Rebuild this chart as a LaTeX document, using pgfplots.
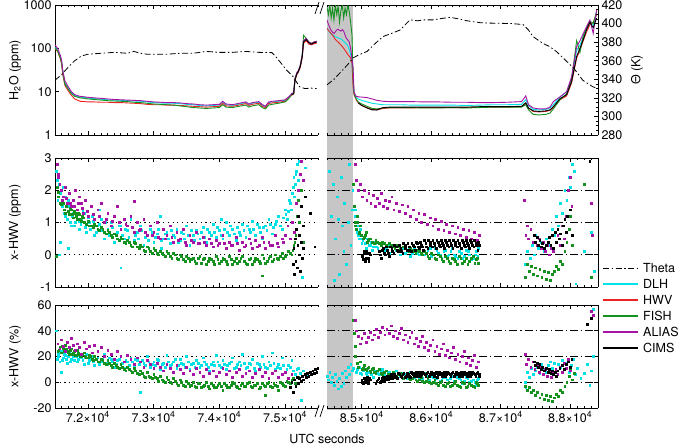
\documentclass[border=0pt]{standalone}
\usepackage{fontspec}
\setmainfont{TeX Gyre Heros}
\usepackage{pgfplots}
\pgfplotsset{compat=1.18}
\usepackage{pgfplotstable}
\pgfdeclarelayer{background}
\pgfsetlayers{background,main}

\definecolor{cDLH}{RGB}{0,225,230}
\definecolor{cHWV}{RGB}{235,35,35}
\definecolor{cFISH}{RGB}{20,145,30}
\definecolor{cALIAS}{RGB}{165,20,165}
\tikzset{thetaline/.style={black, line width=0.8pt, dash pattern=on 6pt off 2.5pt on 1.5pt off 2.5pt}}

\pgfplotsset{
  every axis/.append style={
    scale only axis,
    font=\fontsize{12.5}{14}\selectfont,
    /pgf/number format/assume math mode=true,
    scaled x ticks=false,
    tick align=inside,
    major tick length=4pt, minor tick length=2.2pt,
    tick style={black, line width=0.6pt},
    axis line style={-, line width=0.8pt},
    every outer x axis line/.append style={-},
    every outer y axis line/.append style={-},
  },
  leftseg/.style={anchor=north west, width=263pt, xmin=71500, xmax=75500,
    axis x line*=box, axis y line*=left,
    xtick={72000,73000,74000,75000}, minor xtick={71500,71600,...,75500},
    xticklabels={},
    ylabel style={at={(axis description cs:-0.152,0.5)}, anchor=center}},
  rightseg/.style={anchor=north west, width=271pt, xmin=84500, xmax=88400,
    axis x line*=box, axis y line*=right,
    xtick={85000,86000,87000,88000}, minor xtick={84500,84600,...,88400},
    xticklabels={}, yticklabels={}},
  scat/.style={only marks, mark=square*, mark size=0.9pt, color=#1},
  ln/.style={color=#1, line width=0.9pt, unbounded coords=jump},
  theta/.style={thetaline},
}

\pgfplotstableread{
x dlh hwv fish alias cims
71500 105 95 100 120 nan
71540 90 85 88 100 nan
71580 62 58 60 70 nan
71600 48 44 46 55 nan
71620 27 24 26 30 nan
71650 16 14 15 18 nan
71700 12 10.5 11.5 13 nan
71750 9.4 8.2 9.0 10 nan
71800 8.2 6.8 7.8 8.5 nan
71880 7.5 6.0 7.2 7.8 nan
71950 7.3 5.9 7.0 7.6 nan
72000 7.1 5.8 6.8 7.4 nan
72100 6.9 5.8 6.6 7.2 nan
72200 6.7 5.7 6.4 7.0 nan
72300 6.5 5.7 6.2 6.8 nan
72400 6.4 5.6 6.1 6.6 nan
72500 6.3 5.6 6.0 6.5 nan
72600 6.2 5.5 5.9 6.4 nan
72700 6.1 5.4 5.7 6.3 nan
72800 6.0 5.3 5.6 6.2 nan
72900 5.8 5.1 5.4 6.0 nan
73000 5.6 5.0 5.2 5.8 nan
73100 5.5 5.0 5.1 5.7 nan
73200 5.4 4.9 5.0 5.6 nan
73300 5.4 4.9 4.9 5.6 nan
73400 5.3 4.8 4.7 5.5 nan
73500 5.1 4.7 4.5 5.3 nan
73600 5.0 4.6 4.3 5.2 nan
73700 4.8 4.5 4.2 5.0 nan
73800 4.7 4.4 4.1 4.9 nan
73900 4.8 4.5 4.2 5.0 nan
74000 4.9 4.6 4.3 5.1 nan
74050 5.8 5.4 5.0 6.0 nan
74100 5.0 4.7 4.4 5.2 nan
74200 4.8 4.6 4.3 5.0 nan
74300 5.2 4.9 4.6 5.4 nan
74400 5.6 5.3 4.9 5.8 nan
74450 5.0 4.8 4.4 5.2 nan
74500 5.4 5.1 4.7 5.6 nan
74600 5.7 5.4 5.0 5.9 nan
74650 4.9 4.6 4.3 5.1 nan
74700 4.5 4.3 4.0 4.6 nan
74750 5.6 5.3 4.9 5.8 nan
74800 5.8 5.5 5.1 6.0 nan
74900 6.0 5.7 5.4 6.2 nan
75000 6.3 6.0 5.8 6.5 nan
75050 7.3 7.0 6.8 7.5 nan
75100 8.8 8.3 8.5 9.0 8.6
75130 9.3 8.8 9.0 9.5 9.0
75150 19 18 20 20 19
75180 27 25 27 28 26
75200 29 28 30 30 29
75230 38 36 40 40 38
75260 65 60 70 70 65
75280 140 130 200 150 140
75320 160 150 170 170 160
75360 135 125 140 140 135
75400 125 120 130 130 125
75440 135 128 140 140 135
75480 140 132 145 145 140
}\tlTab

\pgfplotstableread{
x dlh hwv fish alias cims
84500 300 290 900 450 nan
84520 260 260 600 360 nan
84540 230 240 1000 300 nan
84560 215 220 500 260 nan
84580 205 200 850 235 nan
84600 195 180 450 220 nan
84620 185 160 1000 240 nan
84640 180 150 600 265 nan
84660 175 140 950 275 nan
84680 170 130 400 260 nan
84700 165 120 750 250 nan
84720 155 110 1000 270 nan
84740 145 100 500 250 nan
84760 135 90 850 200 nan
84780 125 80 600 170 nan
84800 115 72 1000 155 nan
84820 95 66 700 140 nan
84840 72 60 400 100 nan
84860 42 45 200 55 nan
84875 16 13 20 37 nan
84890 9.5 8.4 8.8 9.5 nan
84920 7.4 6.5 6.8 7.8 nan
84950 6.8 5.5 5.8 7.6 5.5
85000 6.3 4.8 5.2 7.5 4.8
85076 5.8 4.3 4.6 7.3 4.2
85150 5.4 3.9 4.1 6.8 3.8
85220 5.2 3.8 4.0 6.3 3.8
85306 5.0 4.1 4.2 6.0 4.3
85400 5.0 4.2 4.3 5.9 4.4
85550 5.0 4.2 4.3 5.9 4.4
85700 4.9 4.2 4.3 5.9 4.4
85900 4.9 4.3 4.2 5.8 4.4
86100 4.9 4.3 4.2 5.8 4.4
86300 4.9 4.3 4.3 5.7 4.4
86500 4.8 4.3 4.2 5.7 4.4
86700 4.9 4.4 4.3 5.6 4.5
86900 5.0 4.4 4.4 5.6 4.5
87100 5.0 4.4 4.4 5.7 4.5
87300 5.1 4.5 4.4 5.9 4.6
87360 6.5 5.5 5.0 8.0 5.5
87400 4.8 4.2 3.8 5.0 4.2
87468 3.9 3.5 3.0 4.2 3.6
87550 3.8 3.4 2.9 4.0 3.5
87650 3.9 3.5 3.0 4.0 3.6
87709 4.2 3.7 3.2 4.4 3.8
87757 5.0 4.3 4.0 5.9 4.5
87853 7.5 6.5 6.5 7.6 6.9
87949 10 8 9 10 8.5
88020 20 16 20 22 17
88093 90 60 150 109 65
88140 120 90 80 150 100
88188 180 150 200 220 160
88240 300 250 300 330 280
88284 420 350 420 450 400
88331 350 400 380 220 300
88380 600 600 700 770 500
}\trTab

\begin{document}
\begin{tikzpicture}
\useasboundingbox (0,0) rectangle (679pt,-447pt);

% ---------------- top panel: H2O and Theta
\begin{axis}[leftseg, at={(55pt,-5pt)}, height=130pt,
  ymode=log, ymin=1, ymax=1000, ytick={1,10,100,1000},
  yticklabels={1,10,100,1000}, minor y tick style={draw=none},
  ylabel={H\textsubscript{2}O (ppm)}]
\addplot[ln=cDLH] table[x=x,y=dlh] {\tlTab};
\addplot[ln=cHWV] table[x=x,y=hwv] {\tlTab};
\addplot[ln=cFISH] table[x=x,y=fish] {\tlTab};
\addplot[ln=cALIAS] table[x=x,y=alias] {\tlTab};
\addplot[ln=black] table[x=x,y=cims] {\tlTab};
\end{axis}
\begin{axis}[anchor=north west, at={(55pt,-5pt)}, width=263pt, height=130pt,
  xmin=71500, xmax=75500, ymin=280, ymax=420, hide axis]
\addplot[theta] coordinates {
(71500,339) (71600,345) (71700,353) (71800,360) (71900,365) (72000,367)
(72200,368) (72400,369) (72600,368) (72700,370) (72800,368) (72900,367)
(73000,367) (73200,367) (73400,368) (73600,368) (73700,369) (73800,370)
(74000,369) (74200,369) (74400,370) (74600,369) (74800,368.7) (74850,365)
(74920,359) (75020,350) (75120,343) (75220,332) (75300,330) (75400,330.5) (75480,330)};
\end{axis}

\begin{axis}[rightseg, at={(327pt,-5pt)}, height=130pt, axis y line=none,
  ymode=log, ymin=1, ymax=1000]
\coordinate (gA) at (axis cs:84500,1000);
\addplot[ln=cDLH] table[x=x,y=dlh] {\trTab};
\addplot[ln=cHWV] table[x=x,y=hwv] {\trTab};
\addplot[ln=cFISH] table[x=x,y=fish] {\trTab};
\addplot[ln=cALIAS] table[x=x,y=alias] {\trTab};
\addplot[ln=black] table[x=x,y=cims] {\trTab};
\end{axis}
\begin{axis}[rightseg, at={(327pt,-5pt)}, height=130pt, axis x line=none,
  ymin=280, ymax=420, ytick={280,300,...,420}, minor y tick num=3,
  yticklabels={280,300,320,340,360,380,400,420},
  ylabel={Θ (K)}, ylabel style={at={(axis description cs:1.144,0.5)}, anchor=center}]
\addplot[theta] coordinates {
(84500,334) (84600,340) (84700,348) (84800,356) (84874,363) (84950,366)
(85076,370) (85200,379) (85306,386) (85450,390) (85550,393) (85694,404)
(85800,403) (85900,404) (86025,404) (86150,405.5) (86270,406.7) (86400,405)
(86514,403) (86700,401) (86850,400.5) (86990,400.3) (87150,400) (87320,399)
(87400,393) (87464,386) (87600,379) (87709,375) (87800,370) (87953,359)
(88050,352) (88180,339) (88324,332) (88400,330)};
\end{axis}

% ---------------- middle panel: x-HWV (ppm)
\begin{axis}[leftseg, at={(55pt,-158pt)}, height=129pt,
  ymin=-1, ymax=3, ytick={-1,0,1,2,3}, ylabel={x-HWV (ppm)},
  ymajorgrids, grid style={black, line width=0.6pt, dash pattern=on 1.2pt off 3.5pt}]
\addplot[scat=cDLH] coordinates {
(71520,2.6) (71540,1.7) (71560,2.2) (71580,0.4) (71600,1.6) (71620,2.1) (71640,1.3)
(71660,1.8) (71690,1.1) (71720,1.5) (71750,0.9) (71780,1.3) (71810,1.0) (71840,1.4)
(71870,0.8) (71900,1.1) (71940,1.3) (71980,0.7) (72020,1.0) (72060,1.2) (72100,0.6)
(72150,0.9) (72200,1.1) (72250,0.5) (72300,0.8) (72350,1.0) (72400,0.4) (72450,0.7)
(72500,0.9) (72550,0.5) (72600,0.75) (72650,1.1) (72700,0.45) (72750,0.7) (72800,0.9)
(72850,0.3) (72900,0.6) (72950,0.8) (73000,0.4) (73050,0.65) (73100,1.2) (73150,0.5)
(73200,0.7) (73250,0.35) (73300,0.6) (73350,0.8) (73400,0.45) (73450,0.65) (73500,0.9)
(73550,0.3) (73600,0.6) (73650,0.75) (73700,0.5) (73750,0.85) (73800,0.4) (73850,0.7)
(73900,0.95) (73950,0.55) (74000,0.75) (74050,0.5) (74100,1.0) (74150,0.6) (74200,0.8)
(74250,0.45) (74300,0.7) (74350,0.95) (74400,0.55) (74450,0.8) (74500,1.05) (74550,0.6)
(74600,0.85) (74650,0.5) (74700,0.9) (74750,1.1) (74800,0.65) (74850,0.95) (74900,1.2)
(74950,0.8) (75000,1.4) (75030,1.1) (75060,1.7) (75090,1.4) (75120,2.1) (75140,1.8)
(75160,2.5) (75180,2.8) (75200,2.3) (75220,2.9) (75260,-0.7) (75300,2.7)
(71560,0.0) (71700,0.2) (72500,-0.4) (72180,1.4) (73120,0.2) (74030,1.1)
(71530,2.3) (71575,1.9) (71615,1.5) (71655,1.2) (71705,1.7) (71735,1.0) (71765,1.2)
(71795,0.9) (71825,1.25) (71860,1.05) (71890,0.95) (71920,1.35) (71960,0.85) (72000,1.15)
(72040,0.8) (72080,1.05) (72125,0.7) (72170,0.95) (72220,0.75) (72270,1.0) (72320,0.6)
(72370,0.85) (72420,0.65) (72470,0.9) (72520,0.6) (72570,0.8) (72620,0.55) (72670,0.85)
(72720,0.6) (72770,0.5) (72820,0.75) (72870,0.55) (72920,0.45) (72970,0.7) (73020,0.55)
(73070,0.8) (73120,0.45) (73170,0.65) (73220,0.5) (73270,0.75) (73320,0.55) (73370,0.4)
(73420,0.7) (73470,0.5) (73520,0.6) (73570,0.75) (73620,0.45) (73670,0.65) (73720,0.7)
(73770,0.55) (73820,0.8) (73870,0.6) (73920,0.7) (73970,0.85) (74020,0.6) (74070,0.8)
(74120,0.7) (74170,0.9) (74220,0.65) (74270,0.85) (74320,0.6) (74370,0.75) (74420,0.9)
(74470,0.7) (74520,0.8) (74570,0.95) (74620,0.7) (74670,0.85) (74720,0.75) (74770,0.95)
(74820,0.85) (74870,1.05) (74920,0.9) (74970,1.15) (75010,1.25) (75045,1.35) (75075,1.6)
(75105,1.9) (75130,2.4) (75150,2.2) (75170,2.6)};
\addplot[scat=cFISH] coordinates {
(71530,2.1) (71550,1.8) (71580,1.6) (71610,1.7) (71640,1.4) (71670,1.5) (71700,1.35)
(71730,1.45) (71760,1.25) (71790,1.35) (71820,1.2) (71850,1.3) (71880,1.1) (71910,1.2)
(71950,1.0) (72000,1.05) (72050,0.9) (72100,0.95) (72150,0.8) (72200,0.85) (72250,0.7)
(72300,0.75) (72350,0.6) (72400,0.65) (72450,0.5) (72500,0.55) (72550,0.4) (72600,0.45)
(72650,0.3) (72700,0.4) (72750,0.25) (72800,0.3) (72850,0.15) (72900,0.25) (72950,0.1)
(73000,0.2) (73050,0.05) (73100,0.12) (73150,0.0) (73200,0.1) (73250,-0.05) (73300,0.05)
(73350,-0.1) (73400,0.0) (73450,-0.15) (73500,-0.05) (73550,-0.2) (73600,-0.1) (73650,-0.25)
(73700,-0.05) (73750,-0.15) (73800,-0.3) (73850,-0.1) (73900,-0.2) (73950,-0.05) (74000,-0.25)
(74050,-0.1) (74100,-0.2) (74150,-0.05) (74200,-0.3) (74250,-0.1) (74300,-0.2) (74350,-0.05)
(74400,-0.25) (74450,-0.15) (74500,-0.3) (74550,-0.1) (74600,-0.2) (74650,0.0) (74700,-0.25)
(74750,-0.1) (74800,-0.2) (74850,0.0) (74900,-0.15) (74950,0.05) (75000,-0.05) (75050,0.1)
(75100,0.0) (75130,0.3) (75160,0.6) (75180,1.2) (75200,1.7) (75220,1.0) (75240,2.0)
(75270,0.4) (74650,-0.65) (71520,-0.05)
(71545,1.95) (71595,1.55) (71625,1.6) (71655,1.3) (71715,1.25) (71745,1.4) (71775,1.15)
(71805,1.3) (71835,1.1) (71865,1.25) (71895,1.05) (71930,1.15) (71975,0.95) (72025,0.9)
(72075,0.85) (72125,0.9) (72175,0.75) (72225,0.8) (72275,0.65) (72325,0.7) (72375,0.55)
(72425,0.6) (72475,0.45) (72525,0.5) (72575,0.35) (72625,0.4) (72675,0.25) (72725,0.35)
(72775,0.2) (72825,0.25) (72875,0.1) (72925,0.2) (72975,0.05) (73025,0.15) (73075,0.0)
(73125,0.05) (73175,-0.05) (73225,0.05) (73275,-0.1) (73325,0.0) (73375,-0.15) (73425,-0.05)
(73475,-0.2) (73525,-0.1) (73575,-0.15) (73625,-0.2) (73675,-0.1) (73725,-0.25) (73775,-0.1)
(73825,-0.2) (73875,-0.15) (73925,-0.3) (73975,-0.15) (74025,-0.2) (74075,-0.15) (74125,-0.3)
(74175,-0.15) (74225,-0.2) (74275,-0.25) (74325,-0.1) (74375,-0.2) (74425,-0.3) (74475,-0.1)
(74525,-0.2) (74575,-0.15) (74625,-0.25) (74675,-0.1) (74725,-0.2) (74775,-0.05) (74825,-0.15)
(74875,-0.1) (74925,-0.05) (74975,-0.1) (75025,0.0) (75075,0.05) (75115,0.15) (75145,0.4)};
\addplot[scat=cALIAS] coordinates {
(71530,2.8) (71550,2.5) (71570,2.2) (71600,2.0) (71630,1.8) (71660,2.1) (71690,1.6)
(71720,1.9) (71750,1.5) (71780,1.7) (71810,2.0) (71840,1.4) (71870,1.8) (71900,1.6)
(71930,1.3) (71960,1.7) (72000,1.2) (72050,1.5) (72100,1.1) (72150,1.4) (72200,1.6)
(72250,1.0) (72300,1.3) (72350,0.9) (72400,1.2) (72450,1.5) (72500,0.8) (72550,1.1)
(72600,0.9) (72650,1.2) (72700,0.7) (72750,1.0) (72800,0.8) (72850,1.1) (72900,0.6)
(72950,0.9) (73000,0.7) (73050,1.0) (73100,0.5) (73150,0.8) (73200,0.6) (73250,0.9)
(73300,0.4) (73350,0.7) (73400,0.5) (73450,0.8) (73500,0.3) (73550,0.6) (73600,0.4)
(73650,0.7) (73700,0.35) (73750,0.55) (73800,0.3) (73850,0.5) (73900,0.25) (73950,0.45)
(74000,0.35) (74050,0.6) (74100,0.2) (74150,0.4) (74200,0.3) (74250,0.55) (74300,0.15)
(74350,0.4) (74400,0.3) (74450,0.5) (74500,0.2) (74550,0.45) (74600,0.3) (74650,0.55)
(74700,0.2) (74750,0.4) (74800,0.3) (74850,0.6) (74900,0.25) (74950,0.5) (75000,0.6)
(75040,0.9) (75080,0.5) (75110,1.0) (75140,0.7) (75170,1.6) (75200,2.0) (75230,2.5)
(75250,2.9) (75270,2.3) (72700,1.65)
(71545,2.4) (71615,1.7) (71675,1.75) (71735,1.6) (71795,1.5) (71855,1.6) (71915,1.45)
(71985,1.35) (72075,1.25) (72175,1.2) (72275,1.1) (72375,1.05) (72475,1.0) (72575,0.95)
(72675,0.85) (72775,0.75) (72875,0.7) (72975,0.6) (73075,0.55) (73175,0.5) (73275,0.55)
(73375,0.45) (73475,0.4) (73575,0.45) (73675,0.35) (73775,0.4) (73875,0.35) (73975,0.3)
(74075,0.35) (74175,0.3) (74275,0.35) (74375,0.25) (74475,0.35) (74575,0.25) (74675,0.4)
(74775,0.3) (74875,0.35) (74975,0.4)};
\addplot[scat=black] coordinates {
(75120,-0.3) (75130,0.2) (75140,-0.6) (75150,0.5) (75160,-0.2) (75170,0.8) (75180,-0.4)
(75190,0.3) (75200,1.2) (75210,0.0) (75220,0.6) (75230,-0.5) (75240,1.5) (75250,0.4)
(75260,-0.1) (75270,0.9) (75280,0.2) (75300,1.8) (75450,0.25) (75380,1.3)};
\end{axis}

\begin{axis}[rightseg, at={(327pt,-158pt)}, height=129pt,
  ymin=-1, ymax=3, ytick={-1,0,1,2,3},
  ymajorgrids, grid style={black, line width=0.6pt, dash pattern=on 8pt off 3pt on 1.2pt off 3pt}]
\addplot[scat=cDLH] coordinates {
(84530,2.6) (84560,1.2) (84590,2.2) (84620,0.5) (84650,1.8) (84680,-0.6) (84700,2.4)
(84720,0.9) (84750,1.6) (84780,-0.3) (84800,1.0) (84820,2.8) (84840,0.3) (84860,1.4)
(84870,2.0) (84600,-0.8) (84740,0.1) (84660,1.1)
(84900,1.4) (84920,1.0) (84940,0.7) (84960,0.5) (84980,0.8) (85000,0.35) (85030,0.55)
(85060,0.2) (85090,0.45) (85120,0.3) (85150,0.15) (85180,0.4) (85210,0.25) (85250,0.1)
(85300,0.35) (85350,0.2) (85400,0.05) (85450,0.3) (85500,0.15) (85550,0.0) (85600,0.25)
(85650,0.1) (85700,-0.05) (85750,0.2) (85800,0.05) (85850,0.3) (85900,0.0) (85950,0.15)
(86000,-0.05) (86050,0.2) (86100,0.05) (86150,-0.1) (86200,0.15) (86250,0.0) (86300,0.2)
(86350,-0.05) (86400,0.1) (86450,-0.1) (86500,0.15) (86550,0.0) (86600,-0.1) (86650,0.1)
(86680,0.2)
(84910,1.2) (84930,0.9) (84950,0.6) (84970,0.7) (84990,0.5) (85015,0.45) (85045,0.35)
(85075,0.5) (85105,0.3) (85135,0.4) (85165,0.25) (85200,0.35) (85230,0.2) (85280,0.3)
(85330,0.15) (85380,0.3) (85430,0.1) (85480,0.25) (85530,0.1) (85580,0.2) (85630,0.05)
(85680,0.2) (85730,0.05) (85780,0.15) (85830,0.0) (85880,0.15) (85930,0.05) (85980,0.2)
(86030,0.0) (86080,0.15) (86130,0.0) (86180,0.1) (86230,-0.05) (86280,0.1) (86330,0.0)
(86380,-0.1) (86430,0.05) (86480,-0.05) (86530,0.1) (86580,-0.15) (86630,0.0) (86670,-0.05)
(87350,-0.3) (87380,0.1) (87400,0.5) (87420,-0.1) (87450,0.3) (87480,0.0) (87500,0.6)
(87540,0.2) (87580,0.4) (87620,0.1) (87660,0.5) (87700,0.3) (87740,0.8) (87770,0.6)
(87800,1.2) (87830,0.9) (87860,1.6) (87890,1.3) (87920,2.0) (87950,1.7) (87980,2.4)
(88000,2.1) (88030,2.8) (88060,2.6) (88080,-0.9) (88300,0.7) (88350,-0.5) (88200,0.1)};
\addplot[scat=cFISH] coordinates {
(84880,2.2) (84890,1.5) (84900,1.0) (84920,0.8) (84940,1.2) (84960,0.7) (84980,0.9)
(85000,0.6) (85030,0.55) (85060,0.7) (85090,0.45) (85120,0.5) (85150,0.4) (85200,0.45)
(85250,0.35) (85300,0.4) (85350,0.3) (85400,0.35) (85450,0.25) (85500,0.3) (85550,0.2)
(85600,0.25) (85650,0.15) (85700,0.2) (85750,0.1) (85800,0.15) (85850,0.05) (85900,0.1)
(85950,-0.05) (86000,0.05) (86050,-0.1) (86100,0.0) (86150,-0.15) (86200,-0.05) (86250,-0.2)
(86300,-0.1) (86350,-0.2) (86400,-0.05) (86450,-0.25) (86500,-0.1) (86550,-0.2) (86600,-0.05)
(86650,-0.15) (86680,-0.25)
(84905,0.9) (84930,1.0) (84955,0.65) (84990,0.6) (85020,0.5) (85050,0.6) (85080,0.4)
(85110,0.5) (85175,0.35) (85225,0.4) (85275,0.3) (85325,0.35) (85375,0.25) (85425,0.3)
(85475,0.2) (85525,0.25) (85575,0.15) (85625,0.2) (85675,0.1) (85725,0.15) (85775,0.05)
(85825,0.1) (85875,0.0) (85925,0.05) (85975,-0.1) (86025,0.0) (86075,-0.15) (86125,-0.05)
(86175,-0.2) (86225,-0.1) (86275,-0.25) (86325,-0.15) (86375,-0.3) (86425,-0.1) (86475,-0.2)
(86525,-0.3) (86575,-0.1) (86625,-0.25) (86660,-0.1)
(87350,-0.7) (87380,-0.3) (87410,-0.5) (87440,-0.35) (87470,-0.6) (87500,-0.4) (87530,-0.65)
(87560,-0.45) (87590,-0.7) (87620,-0.5) (87650,-0.75) (87680,-0.55) (87710,-0.8) (87740,-0.6)
(87770,-0.5) (87800,-0.35) (87830,-0.45) (87860,-0.2) (87890,-0.3) (87920,0.1) (87950,0.4)
(87980,0.8) (88000,1.2) (88030,0.3) (88300,-0.7) (88200,2.2)};
\addplot[scat=cALIAS] coordinates {
(84900,2.8) (84920,2.3) (84950,2.0) (84980,2.2) (85010,1.8) (85040,2.0) (85070,1.7)
(85100,1.9) (85130,1.6) (85160,1.85) (85190,1.5) (85220,1.75) (85250,1.6) (85280,1.9)
(85310,1.5) (85340,1.7) (85370,1.45) (85400,1.65) (85430,1.8) (85460,1.4) (85500,1.6)
(85540,1.35) (85580,1.55) (85620,1.3) (85660,1.5) (85700,1.2) (85740,1.4) (85780,1.1)
(85820,1.3) (85860,1.0) (85900,1.25) (85940,0.95) (85980,1.15) (86020,0.9) (86060,1.1)
(86100,0.8) (86140,1.05) (86180,0.75) (86220,0.95) (86260,0.7) (86300,0.9) (86340,0.65)
(86380,0.85) (86420,0.6) (86460,0.8) (86500,0.55) (86540,0.75) (86580,0.5) (86620,0.7)
(86660,0.45) (86690,0.6)
(87340,1.7) (87360,0.6) (87380,0.9) (87400,0.5) (87430,0.8) (87460,0.4) (87490,0.6)
(87520,0.3) (87550,0.5) (87580,0.2) (87610,0.4) (87640,0.1) (87670,0.3) (87700,0.0)
(87730,0.2) (87760,0.1) (87790,0.4) (87820,0.6) (87850,0.3) (87880,0.9) (87910,0.5)
(87940,1.2) (87970,2.0) (88000,2.4) (88020,1.5) (88300,1.6) (88320,0.6)};
\addplot[scat=black] coordinates {
(85000,0.0) (85020,-0.15) (85040,0.1) (85060,-0.1) (85080,0.05) (85100,-0.2) (85120,0.0)
(85250,0.1) (85280,-0.1) (85310,0.2) (85340,0.0) (85370,0.15) (85400,-0.05) (85430,0.2)
(85460,0.05) (85500,0.25) (85530,0.1) (85560,0.2) (85590,0.05) (85620,0.3) (85650,0.15)
(85680,0.25) (85710,0.1) (85740,0.3) (85770,0.15) (85800,0.35) (85830,0.2) (85860,0.3)
(85890,0.15) (85920,0.35) (85950,0.2) (85980,0.4) (86010,0.25) (86040,0.35) (86070,0.2)
(86100,0.4) (86130,0.25) (86160,0.35) (86190,0.2) (86220,0.4) (86250,0.25) (86280,0.35)
(86310,0.2) (86340,0.4) (86370,0.25) (86400,0.35) (86430,0.2) (86460,0.4) (86490,0.25)
(86520,0.35) (86550,0.2) (86580,0.4) (86610,0.25) (86640,0.35) (86670,0.15) (86690,0.3)
(85010,-0.05) (85030,0.05) (85050,-0.2) (85070,0.1) (85090,-0.1) (85110,0.05) (85260,0.0)
(85290,0.15) (85320,0.05) (85350,0.25) (85380,0.05) (85410,0.25) (85440,0.1) (85470,0.3)
(85510,0.15) (85540,0.3) (85570,0.1) (85600,0.35) (85630,0.2) (85660,0.35) (85690,0.15)
(85720,0.35) (85750,0.25) (85780,0.4) (85810,0.25) (85840,0.4) (85870,0.25) (85900,0.45)
(85930,0.25) (85960,0.45) (85990,0.3) (86020,0.45) (86050,0.3) (86080,0.45) (86110,0.3)
(86140,0.45) (86170,0.3) (86200,0.45) (86230,0.3) (86260,0.45) (86290,0.3) (86320,0.45)
(86350,0.3) (86380,0.45) (86410,0.3) (86440,0.45) (86470,0.3) (86500,0.45) (86530,0.3)
(86560,0.45) (86590,0.3) (86620,0.45) (86650,0.3) (86680,0.4)
(87480,0.6) (87500,0.4) (87520,0.55) (87540,0.3) (87560,0.45) (87580,0.25) (87600,0.35)
(87620,0.2) (87650,0.3) (87680,0.4) (87700,0.55) (87720,0.3) (87740,0.6) (87760,0.2)
(87780,0.7) (87800,0.4) (87820,0.8) (87840,0.5) (87860,0.65) (87880,0.3) (87900,0.9)
(87920,1.1) (87940,0.7) (87960,1.2) (88000,1.4) (88030,0.6) (88280,2.9)};
\end{axis}

% ---------------- bottom panel: x-HWV (%)
\begin{axis}[leftseg, at={(55pt,-305pt)}, height=103pt,
  ymin=-20, ymax=60, ytick={-20,0,...,60}, ylabel={x-HWV (\%)},
  xticklabels={7.2×10\textsuperscript{4},7.3×10\textsuperscript{4},7.4×10\textsuperscript{4},7.5×10\textsuperscript{4}},
  ymajorgrids, grid style={black, line width=0.6pt, dash pattern=on 1.2pt off 3.5pt}]
\addplot[scat=cDLH] coordinates {
(71520,40) (71530,18) (71550,22) (71570,16) (71600,24) (71630,19) (71660,21) (71690,15)
(71720,23) (71750,18) (71780,20) (71810,25) (71840,16) (71870,21) (71900,19) (71940,14)
(71980,22) (72020,17) (72060,20) (72100,13) (72150,19) (72200,16) (72250,22) (72300,14)
(72350,18) (72400,12) (72450,17) (72500,20) (72550,11) (72600,16) (72650,19) (72700,13)
(72750,17) (72800,9) (72850,15) (72900,20) (72950,12) (73000,16) (73050,18) (73100,10)
(73150,15) (73200,21) (73250,13) (73300,16) (73350,11) (73400,18) (73450,14) (73500,20)
(73550,10) (73600,15) (73650,17) (73700,12) (73750,19) (73800,14) (73850,9) (73900,16)
(73950,21) (74000,13) (74050,17) (74100,10) (74150,15) (74200,19) (74250,12) (74300,16)
(74350,22) (74400,11) (74450,15) (74500,18) (74550,9) (74600,14) (74650,20) (74700,12)
(74750,16) (74800,23) (74850,10) (74900,14) (74950,19) (75000,8) (75050,13) (75100,17)
(75150,6) (75200,11) (75250,-14) (72790,-8) (71590,8)
(71545,20) (71585,23) (71615,17) (71645,22) (71675,18) (71705,20) (71735,16) (71765,22)
(71795,17) (71825,20) (71855,18) (71885,22) (71920,17) (71960,19) (72000,15) (72040,19)
(72080,16) (72125,18) (72175,14) (72225,18) (72275,15) (72325,19) (72375,16) (72425,14)
(72475,18) (72525,15) (72575,17) (72625,13) (72675,16) (72725,18) (72775,14) (72825,17)
(72875,13) (72925,16) (72975,14) (73025,13) (73075,17) (73125,14) (73175,12) (73225,16)
(73275,14) (73325,18) (73375,13) (73425,15) (73475,12) (73525,16) (73575,14) (73625,12)
(73675,15) (73725,13) (73775,16) (73825,12) (73875,14) (73925,13) (73975,16) (74025,12)
(74075,14) (74125,13) (74175,16) (74225,11) (74275,14) (74325,13) (74375,15) (74425,12)
(74475,14) (74525,11) (74575,15) (74625,12) (74675,14) (74725,11) (74775,13) (74825,15)
(74875,12) (74925,11) (74975,13) (75025,10) (75075,12) (75125,9) (75175,10) (75225,7)
(75275,9) (75350,5) (75450,7)};
\addplot[scat=cFISH] coordinates {
(71540,24) (71570,27) (71600,23) (71630,26) (71660,29) (71690,24) (71720,22) (71750,26)
(71780,23) (71810,21) (71840,25) (71870,22) (71900,20) (71940,23) (71980,19) (72020,21)
(72060,18) (72100,20) (72150,16) (72200,18) (72250,15) (72300,17) (72350,13) (72400,15)
(72450,12) (72500,14) (72550,10) (72600,12) (72650,9) (72700,11) (72750,7) (72800,9)
(72850,5) (72900,8) (72950,4) (73000,6) (73050,3) (73100,5) (73150,1) (73200,4)
(73250,0) (73300,3) (73350,-1) (73400,2) (73450,-2) (73500,1) (73550,-3) (73600,0)
(73650,-4) (73700,-1) (73750,-3) (73800,0) (73850,-5) (73900,-2) (73950,-4) (74000,-1)
(74050,-6) (74100,-2) (74150,-4) (74200,0) (74250,-3) (74300,-5) (74350,-1) (74400,-3)
(74450,0) (74500,-4) (74550,-2) (74600,-5) (74650,-1) (74700,-3) (74750,0) (74800,-4)
(74850,-2) (74900,-6) (74950,-1) (75000,-3) (75050,0) (75100,2) (75150,-1) (75200,4)
(74700,-10)
(71555,25) (71615,28) (71645,24) (71675,26) (71705,23) (71735,25) (71765,22) (71795,24)
(71825,21) (71855,23) (71885,20) (71920,22) (71960,20) (72000,19) (72040,20) (72080,17)
(72125,18) (72175,16) (72225,17) (72275,14) (72325,15) (72375,12) (72425,13) (72475,11)
(72525,12) (72575,9) (72625,10) (72675,8) (72725,9) (72775,6) (72825,7) (72875,4)
(72925,5) (72975,3) (73025,4) (73075,1) (73125,2) (73175,0) (73225,2) (73275,-1)
(73325,1) (73375,-2) (73425,0) (73475,-3) (73525,-1) (73575,-2) (73625,-3) (73675,-1)
(73725,-4) (73775,-2) (73825,-3) (73875,-1) (73925,-4) (73975,-2) (74025,-3) (74075,-1)
(74125,-4) (74175,-2) (74225,-1) (74275,-4) (74325,-2) (74375,-3) (74425,-1) (74475,-3)
(74525,-2) (74575,-1) (74625,-4) (74675,-2) (74725,-1) (74775,-3) (74825,-1) (74875,-3)
(74925,0) (74975,-2) (75025,1) (75075,-1) (75125,3)};
\addplot[scat=cALIAS] coordinates {
(71540,30) (71570,26) (71600,33) (71630,28) (71660,24) (71690,31) (71720,27) (71750,34)
(71780,29) (71810,25) (71840,30) (71870,27) (71900,22) (71940,31) (71980,26) (72020,28)
(72060,23) (72100,29) (72150,24) (72200,27) (72250,20) (72300,25) (72350,22) (72400,18)
(72450,24) (72500,20) (72550,16) (72600,21) (72650,18) (72700,14) (72750,19) (72800,16)
(72850,12) (72900,17) (72950,14) (73000,11) (73050,15) (73100,12) (73150,9) (73200,14)
(73250,11) (73300,8) (73350,13) (73400,10) (73450,7) (73500,12) (73550,9) (73600,6)
(73650,11) (73700,8) (73750,5) (73800,10) (73850,7) (73900,9) (73950,5) (74000,8)
(74050,11) (74100,6) (74150,9) (74200,4) (74250,8) (74300,10) (74350,5) (74400,7)
(74450,9) (74500,4) (74550,7) (74600,10) (74650,5) (74700,8) (74750,3) (74800,7)
(74850,9) (74900,4) (74950,6) (75000,8) (75050,3) (75100,6)};
\addplot[scat=black] coordinates {
(75080,-4) (75100,0) (75120,-8) (75140,2) (75160,-3) (75180,4) (75200,-1) (75220,3)
(75240,1) (75260,5) (75280,2) (75300,6) (75320,4) (75340,7) (75360,5) (75380,8)
(75400,6) (75420,9) (75440,7) (75460,10) (75480,8) (75495,11)};
\end{axis}

\begin{axis}[rightseg, at={(327pt,-305pt)}, height=103pt,
  ymin=-20, ymax=60, ytick={-20,0,...,60},
  xticklabels={8.5×10\textsuperscript{4},8.6×10\textsuperscript{4},8.7×10\textsuperscript{4},8.8×10\textsuperscript{4}},
  ymajorgrids, grid style={black, line width=0.6pt, dash pattern=on 8pt off 3pt on 1.2pt off 3pt}]
\coordinate (gB) at (axis cs:84880,-20);
\addplot[scat=cDLH] coordinates {
(84500,5) (84520,2) (84540,8) (84560,0) (84580,4) (84600,-2) (84620,6) (84640,1)
(84660,-5) (84680,3) (84700,-3) (84720,7) (84740,-1) (84760,9) (84780,4) (84800,12)
(84820,6) (84840,14) (84860,9) (84880,11)
(84920,8) (84960,12) (85000,6) (85040,10) (85080,5) (85120,9) (85160,4) (85200,8)
(85250,6) (85300,10) (85350,5) (85400,8) (85450,4) (85500,9) (85550,5) (85600,7)
(85650,3) (85700,8) (85750,4) (85800,6) (85850,2) (85900,7) (85950,3) (86000,5)
(86050,1) (86100,6) (86150,2) (86200,4) (86250,0) (86300,5) (86350,1) (86400,3)
(86450,-1) (86500,4) (86550,0) (86600,2) (86650,-2) (86680,3)
(84940,10) (84980,7) (85020,9) (85060,7) (85100,8) (85140,6) (85180,9) (85225,7)
(85275,8) (85325,6) (85375,7) (85425,5) (85475,7) (85525,6) (85575,4) (85625,6)
(85675,5) (85725,3) (85775,5) (85825,4) (85875,3) (85925,5) (85975,2) (86025,4)
(86075,3) (86125,1) (86175,4) (86225,2) (86275,3) (86325,1) (86375,4) (86425,2)
(86475,1) (86525,3) (86575,1) (86625,0) (86665,2)
(87350,0) (87380,8) (87410,4) (87440,11) (87470,6) (87500,9) (87530,12) (87560,7)
(87590,14) (87620,10) (87650,8) (87680,13) (87710,16) (87740,11) (87770,15) (87800,9)
(87830,14) (87860,12) (87890,17) (87920,10) (87950,15) (87980,8) (88010,13) (88040,18)
(88070,6) (88100,11) (88150,3) (88200,7) (88250,14) (88280,-2) (88300,9) (88330,20)
(87360,-4) (88330,57)};
\addplot[scat=cFISH] coordinates {
(84880,48) (84890,38) (84900,28) (84910,20) (84930,15) (84950,12) (84980,16) (85010,10)
(85040,13) (85070,9) (85100,12) (85130,8) (85160,11) (85200,7) (85250,10) (85300,6)
(85350,9) (85400,5) (85450,8) (85500,4) (85550,7) (85600,3) (85650,6) (85700,2)
(85750,5) (85800,1) (85850,4) (85900,0) (85950,3) (86000,-1) (86050,2) (86100,-2)
(86150,1) (86200,-3) (86250,0) (86300,-2) (86350,1) (86400,-3) (86450,0) (86500,-4)
(86550,-1) (86600,-3) (86650,0) (86680,-2)
(85020,11) (85055,10) (85085,11) (85115,9) (85145,10) (85180,8) (85225,9) (85275,7)
(85325,8) (85375,6) (85425,6) (85475,5) (85525,6) (85575,4) (85625,4) (85675,3)
(85725,3) (85775,2) (85825,2) (85875,1) (85925,1) (85975,0) (86025,0) (86075,-1)
(86125,0) (86175,-2) (86225,-1) (86275,-3) (86325,-1) (86375,-2) (86425,-4) (86475,-1)
(86525,-3) (86575,-2) (86625,-4) (86665,-1)
(87350,-3) (87380,-6) (87410,-4) (87440,-8) (87470,-6) (87500,-10) (87530,-8) (87560,-12)
(87590,-9) (87620,-13) (87650,-10) (87680,-14) (87710,-11) (87740,-15) (87770,-12) (87800,-9)
(87830,-11) (87860,-6) (87890,-8) (87920,-3) (87950,0) (87980,5) (88000,10) (88030,2)
(88060,7)};
\addplot[scat=cALIAS] coordinates {
(84900,48) (84920,40) (84950,36) (84980,30) (85000,34) (85030,38) (85060,31) (85090,35)
(85120,39) (85150,33) (85180,37) (85210,41) (85240,35) (85270,39) (85300,43) (85330,37)
(85360,41) (85390,38) (85420,44) (85450,36) (85480,40) (85510,34) (85540,38) (85570,42)
(85600,33) (85630,37) (85660,31) (85690,35) (85720,39) (85750,30) (85780,34) (85810,28)
(85840,32) (85870,36) (85900,27) (85930,31) (85960,25) (85990,29) (86020,33) (86050,24)
(86080,28) (86110,22) (86140,26) (86170,30) (86200,21) (86230,25) (86260,19) (86290,23)
(86320,27) (86350,18) (86380,22) (86410,16) (86440,20) (86470,24) (86500,15) (86530,19)
(86560,13) (86590,17) (86620,21) (86650,12) (86680,16)
(87350,22) (87370,14) (87400,18) (87430,12) (87460,16) (87490,10) (87520,14) (87550,8)
(87580,12) (87610,6) (87640,10) (87670,5) (87700,8) (87730,4) (87760,7) (87790,10)
(87820,6) (87850,12) (87880,8) (87910,15) (87940,11) (87970,18) (88000,9) (88300,55)
(88330,52)};
\addplot[scat=black] coordinates {
(85000,2) (85020,-1) (85040,3) (85060,0) (85080,4) (85100,1) (85120,2) (85200,-1)
(85230,2) (85260,0) (85290,3) (85320,1) (85350,4) (85380,2) (85410,5) (85440,3)
(85470,6) (85500,4) (85530,7) (85560,5) (85590,6) (85620,4) (85650,7) (85680,5)
(85710,8) (85740,6) (85770,7) (85800,5) (85830,8) (85860,6) (85890,7) (85920,5)
(85950,8) (85980,6) (86010,7) (86040,5) (86070,8) (86100,6) (86130,7) (86160,5)
(86190,8) (86220,6) (86250,7) (86280,5) (86310,8) (86340,6) (86370,7) (86400,5)
(86430,8) (86460,6) (86490,7) (86520,5) (86550,8) (86580,6) (86610,7) (86640,5)
(86670,8) (86690,6)
(85010,0) (85030,3) (85050,1) (85070,2) (85090,-1) (85110,3) (85215,1) (85245,3)
(85275,1) (85305,4) (85335,2) (85365,5) (85395,3) (85425,6) (85455,4) (85485,5)
(85515,3) (85545,6) (85575,4) (85605,7) (85635,5) (85665,6) (85695,4) (85725,7)
(85755,5) (85785,8) (85815,6) (85845,5) (85875,8) (85905,6) (85935,7) (85965,5)
(85995,8) (86025,6) (86055,7) (86085,4) (86115,8) (86145,6) (86175,7) (86205,5)
(86235,8) (86265,6) (86295,7) (86325,5) (86355,8) (86385,6) (86415,7) (86445,5)
(86475,8) (86505,6) (86535,7) (86565,5) (86595,8) (86625,6) (86655,7) (86685,5)
(87480,16) (87500,13) (87520,15) (87540,12) (87560,14) (87580,10) (87600,12) (87620,9)
(87650,11) (87680,8) (87700,10) (87720,7) (87740,9) (87760,6) (87780,8) (87800,5)
(87820,9) (87850,11) (87880,13) (87910,10) (87940,14) (87970,16) (88000,12) (88020,18)
(88300,50) (88250,45)};
\end{axis}

% shaded interval behind the data
\begin{pgfonlayer}{background}
\fill[gray!45] (gA) rectangle (gB |- 0,-410pt);
\end{pgfonlayer}

% axis break marks
\draw[line width=0.7pt] (315pt,-14pt) -- (319pt,-2pt) (320pt,-14pt) -- (324pt,-2pt);
\draw[line width=0.7pt] (315pt,-417pt) -- (319pt,-405pt) (320pt,-417pt) -- (324pt,-405pt);

% legend, outside on the right
\begin{scope}[every node/.style={anchor=west, inner sep=0pt, font=\fontsize{12.5}{14}\selectfont}]
\draw[thetaline] (603pt,-268pt) -- (638pt,-268pt);
\node at (643pt,-268pt) {Theta};
\draw[cDLH, line width=1.3pt] (603pt,-284pt) -- (638pt,-284pt);
\node at (643pt,-284pt) {DLH};
\draw[cHWV, line width=1.3pt] (603pt,-300pt) -- (638pt,-300pt);
\node at (643pt,-300pt) {HWV};
\draw[cFISH, line width=1.3pt] (603pt,-316pt) -- (638pt,-316pt);
\node at (643pt,-316pt) {FISH};
\draw[cALIAS, line width=1.3pt] (603pt,-332pt) -- (638pt,-332pt);
\node at (643pt,-332pt) {ALIAS};
\draw[black, line width=1.3pt] (603pt,-348pt) -- (638pt,-348pt);
\node at (643pt,-348pt) {CIMS};
\end{scope}

\node[font=\fontsize{12.5}{14}\selectfont] at (327pt,-439pt) {UTC seconds};
\end{tikzpicture}
\end{document}
